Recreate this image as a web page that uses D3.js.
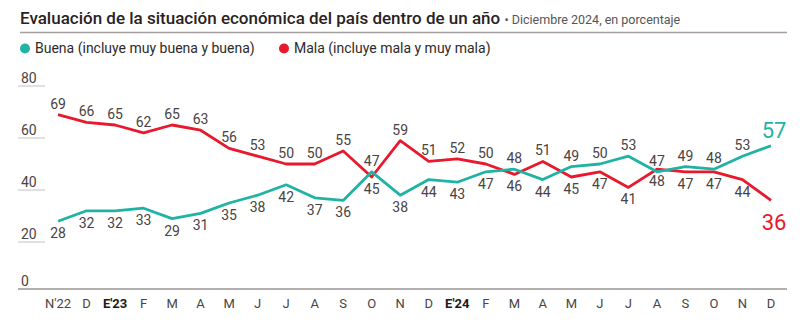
<!DOCTYPE html>
<html>
<head>
<meta charset="utf-8">
<script src="https://cdn.jsdelivr.net/npm/d3@7"></script>
<style>
  html, body { margin: 0; padding: 0; background: #fff; }
  svg { display: block; font-family: Roboto, 'Noto Sans', sans-serif; }
</style>
</head>
<body>
<div id="chart"></div>
<script>
// survey months, Nov 2022 to Dec 2024
const months = ["N'22", 'D', "E'23", 'F', 'M', 'A', 'M', 'J', 'J', 'A', 'S', 'O', 'N', 'D',
  "E'24", 'F', 'M', 'A', 'M', 'J', 'J', 'A', 'S', 'O', 'N', 'D']
const boldMonths = ["E'23", "E'24"]

const buena = [28, 32, 32, 33, 29, 31, 35, 38, 42, 37, 36, 47, 38, 44, 43, 47, 48, 44, 49, 50, 53, 47, 49, 48, 53, 57]
const mala = [69, 66, 65, 62, 65, 63, 56, 53, 50, 50, 55, 45, 59, 51, 52, 50, 46, 51, 45, 47, 41, 48, 47, 47, 44, 36]

const yTicks = [0, 20, 40, 60, 80]

const title = 'Evaluación de la situación económica del país dentro de un año'
const subtitle = '• Diciembre 2024, en porcentaje'
const legendBuena = 'Buena (incluye muy buena y buena)'
const legendMala = 'Mala (incluye mala y muy mala)'

const width = 800
const height = 324
const teal = '#1fb3a3'
const red = '#e8192c'
const textColor = '#4a4343'

const svg = d3.select('#chart').append('svg')
  .attr('width', width)
  .attr('height', height)

// header
const head = svg.append('text')
  .attr('x', 20)
  .attr('y', 24)
  .attr('fill', '#2a2222')
head.append('tspan')
  .style('font-size', '17px')
  .style('font-weight', 500)
  .text(title + ' ')
head.append('tspan')
  .style('font-size', '12.5px')
  .attr('fill', '#555')
  .text(subtitle)

svg.append('line')
  .attr('x1', 20).attr('x2', 787)
  .attr('y1', 32.5).attr('y2', 32.5)
  .attr('stroke', '#a59f9f')
  .attr('stroke-width', 1.5)

// legend
const legend = svg.append('g').attr('transform', 'translate(0,48.5)')
const items = [
  { label: legendBuena, color: teal, x: 25 },
  { label: legendMala, color: red, x: 284 }
]
items.forEach(it => {
  legend.append('circle')
    .attr('cx', it.x).attr('cy', 0).attr('r', 5)
    .attr('fill', it.color)
  legend.append('text')
    .attr('x', it.x + 10)
    .attr('dy', '0.35em')
    .attr('fill', '#2e2a2a')
    .style('font-size', '14px')
    .text(it.label)
})

// scales
const x = d3.scalePoint()
  .domain(d3.range(months.length))
  .range([58, 771])

const y = d3.scaleLinear()
  .domain([0, 80])
  .range([294, 86])

const axisY = 289

// y ticks: short rule under each label
const gy = svg.append('g')
gy.selectAll('line')
  .data(yTicks.filter(d => d > 0))
  .join('line')
  .attr('x1', 18).attr('x2', 45)
  .attr('y1', d => y(d)).attr('y2', d => y(d))
  .attr('stroke', '#c4c0c0')
  .attr('stroke-width', 1)
gy.selectAll('text')
  .data(yTicks)
  .join('text')
  .attr('x', 21)
  .attr('y', d => (d > 0 ? y(d) : axisY) - 3)
  .attr('fill', textColor)
  .style('font-size', '14px')
  .text(d => d)

// baseline and month labels
svg.append('line')
  .attr('x1', 18).attr('x2', 787)
  .attr('y1', axisY).attr('y2', axisY)
  .attr('stroke', '#9a9494')
  .attr('stroke-width', 1.5)

svg.append('g')
  .selectAll('text')
  .data(months)
  .join('text')
  .attr('x', (d, i) => x(i))
  .attr('y', 308)
  .attr('text-anchor', 'middle')
  .attr('fill', d => boldMonths.includes(d) ? '#1e1a1a' : textColor)
  .style('font-weight', d => boldMonths.includes(d) ? 700 : 400)
  .style('font-size', '13px')
  .text(d => d)

// lines
const line = d3.line()
  .x((d, i) => x(i))
  .y(d => y(d))

const series = [
  { values: mala, color: red, other: buena },
  { values: buena, color: teal, other: mala }
]

series.forEach(s => {
  svg.append('path')
    .datum(s.values)
    .attr('fill', 'none')
    .attr('stroke', s.color)
    .attr('stroke-width', 2.8)
    .attr('stroke-linejoin', 'round')
    .attr('d', line)
})

// value labels: the upper series gets its label above the line, the other below
const last = months.length - 1
const above = (v, w, isBuena) => isBuena ? v >= w - 1 : v > w + 1

series.forEach(s => {
  const isBuena = s.values === buena
  svg.append('g')
    .selectAll('text')
    .data(s.values.slice(0, last))
    .join('text')
    .attr('x', (d, i) => x(i))
    .attr('y', (d, i) => above(d, s.other[i], isBuena) ? y(d) - 6 : y(d) + 17)
    .attr('text-anchor', 'middle')
    .attr('fill', textColor)
    .style('font-size', '14px')
    .text(d => d)

  const v = s.values[last]
  const up = v > s.other[last]
  svg.append('text')
    .attr('x', x(last) + 3)
    .attr('y', up ? y(v) - 8 : y(v) + 30)
    .attr('text-anchor', 'middle')
    .attr('fill', s.color)
    .style('font-size', '22px')
    .text(v)
})
</script>
</body>
</html>
